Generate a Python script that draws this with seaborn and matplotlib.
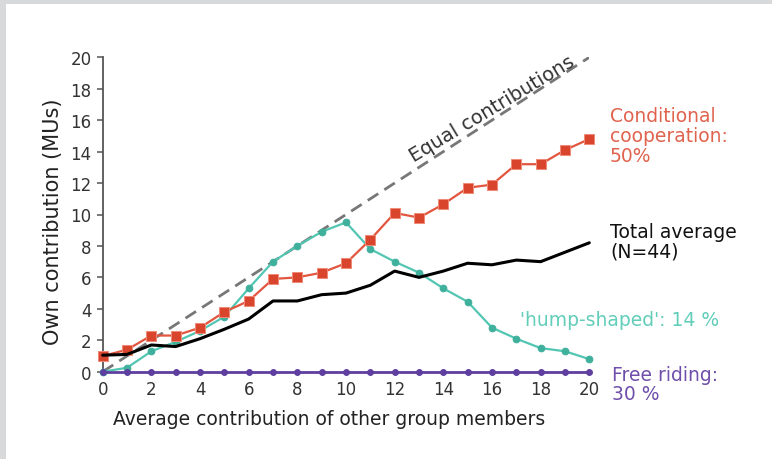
import matplotlib
matplotlib.use("Agg")
import matplotlib.pyplot as plt
import seaborn as sns
import pandas as pd
from matplotlib.patches import Rectangle

# Average contribution of other group members (MUs)
others = list(range(21))

# Own contribution per contribution type
conditional = [1.0, 1.4, 2.3, 2.3, 2.8, 3.8, 4.5, 5.9, 6.0, 6.3, 6.9,
               8.4, 10.1, 9.8, 10.65, 11.7, 11.9, 13.2, 13.2, 14.1, 14.8]
total_avg = [1.05, 1.1, 1.7, 1.6, 2.1, 2.7, 3.35, 4.5, 4.5, 4.9, 5.0,
             5.5, 6.4, 6.0, 6.4, 6.9, 6.8, 7.1, 7.0, 7.6, 8.2]
hump = [0.0, 0.25, 1.3, 1.9, 2.6, 3.5, 5.3, 7.0, 8.0, 8.9, 9.5,
        7.8, 7.0, 6.3, 5.3, 4.45, 2.8, 2.1, 1.5, 1.3, 0.8]
free_riding = [0.0] * 21
equal_x = [0, 20]
equal_y = [0, 20]

x_ticks = list(range(0, 21, 2))
y_ticks = list(range(0, 21, 2))

RED = "#e2553f"
RED_TXT = "#e0634e"
TEAL = "#52c6b2"
TEAL_TXT = "#62cdb9"
PURPLE = "#5e3f9f"
PURPLE_TXT = "#6f4fab"

sns.set_theme(style="white")
plt.rcParams["font.family"] = ["DejaVu Sans"]

fig = plt.figure(figsize=(7.72, 4.6), dpi=100, facecolor="#d8d9db")
# white panel inside the grey frame
fig.patches.append(Rectangle((6 / 772, 0), 1, 455 / 460, transform=fig.transFigure,
                             facecolor="white", edgecolor="none", zorder=-5))
ax = fig.add_axes([102.7 / 772, 1 - 372.7 / 460, 486.6 / 772, 314.4 / 460])
ax.set_zorder(1)
ax.set_facecolor("none")

df = pd.DataFrame({"others": others, "conditional": conditional,
                   "total": total_avg, "hump": hump, "free": free_riding})

sns.lineplot(x=equal_x, y=equal_y, ax=ax, color="#777777", lw=2.0,
             linestyle=(0, (4.5, 2.6)), zorder=2)
sns.lineplot(data=df, x="others", y="hump", ax=ax, color=TEAL, lw=1.6,
             marker="o", markersize=4.8, markeredgecolor="#3fb09c",
             markerfacecolor="#3fb09c", clip_on=False, zorder=3)
sns.lineplot(data=df, x="others", y="conditional", ax=ax, color=RED, lw=1.6,
             marker="s", markersize=6.5, markeredgecolor="#f08a78",
             markerfacecolor="#d9442c", clip_on=False, zorder=4)
sns.lineplot(data=df, x="others", y="total", ax=ax, color="black", lw=2.2,
             clip_on=False, zorder=5)
sns.lineplot(data=df, x="others", y="free", ax=ax, color=PURPLE, lw=2.0,
             marker="o", markersize=4.2, markeredgecolor=PURPLE,
             markerfacecolor=PURPLE, clip_on=False, zorder=6)

ax.set_xlim(0, 20)
ax.set_ylim(0, 20)
ax.set_xticks(x_ticks)
ax.set_yticks(y_ticks)
ax.set_xticklabels([str(v) for v in x_ticks])
ax.set_yticklabels([str(v) for v in y_ticks])

for side in ("top", "right", "bottom"):
    ax.spines[side].set_visible(False)
ax.spines["left"].set_color("#555555")
ax.spines["left"].set_linewidth(1.3)

ax.tick_params(axis="y", direction="out", length=4, width=1.1, color="#555555",
               labelsize=12, labelcolor="#333333", pad=4, left=True)
ax.tick_params(axis="x", length=0, labelsize=12, labelcolor="#333333", pad=6)

ax.set_xlabel("Average contribution of other group members", fontsize=13.5,
              color="#222222")
ax.xaxis.set_label_coords(0.465, -0.118)
ax.set_ylabel("Own contribution (MUs)", fontsize=15, color="#222222")
ax.yaxis.set_label_coords(-0.082, 0.479)

ax.text(16.0, 16.75, "Equal contributions", rotation=31, rotation_mode="anchor",
        ha="center", va="center", fontsize=14, color="#333333")

ax.text(20.85, 16.9, "Conditional\ncooperation:\n50%", color=RED_TXT,
        fontsize=13.5, ha="left", va="top", linespacing=1.05, clip_on=False)
ax.text(20.85, 9.55, "Total average\n(N=44)", color="#111111",
        fontsize=13.5, ha="left", va="top", linespacing=1.05, clip_on=False)
ax.text(17.15, 3.3, "'hump-shaped': 14 %", color=TEAL_TXT,
        fontsize=13.5, ha="left", va="center", clip_on=False)
ax.text(20.95, 0.45, "Free riding:\n30 %", color=PURPLE_TXT,
        fontsize=13.5, ha="left", va="top", linespacing=1.0, clip_on=False)

fig.savefig("out.png", dpi=100, facecolor=fig.get_facecolor())
